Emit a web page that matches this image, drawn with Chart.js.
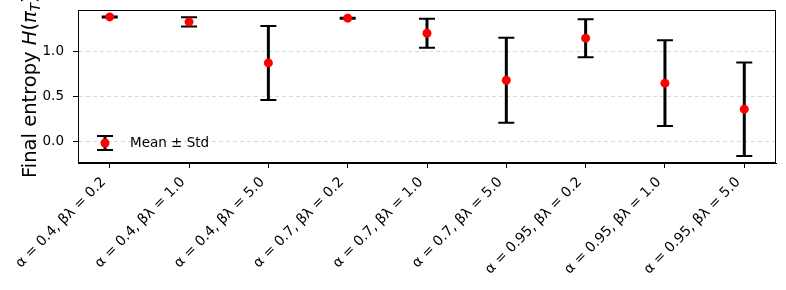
<!DOCTYPE html>
<html>
<head>
<meta charset="utf-8">
<script src="https://cdn.jsdelivr.net/npm/chart.js@4.4.1/dist/chart.umd.min.js"></script>
<style>
  html, body { margin: 0; padding: 0; background: #fff; }
  #wrap { width: 786px; height: 290px; position: relative; }
</style>
</head>
<body>
<div id="wrap"><canvas id="entropyChart"></canvas></div>
<script>
// data
const categories = [
    'α = 0.4, βλ = 0.2', 'α = 0.4, βλ = 1.0', 'α = 0.4, βλ = 5.0',
    'α = 0.7, βλ = 0.2', 'α = 0.7, βλ = 1.0', 'α = 0.7, βλ = 5.0',
    'α = 0.95, βλ = 0.2', 'α = 0.95, βλ = 1.0', 'α = 0.95, βλ = 5.0'
];
const means = [1.383, 1.328, 0.872, 1.369, 1.202, 0.680, 1.147, 0.647, 0.358];
const stds  = [0.006, 0.052, 0.411, 0.006, 0.161, 0.473, 0.211, 0.476, 0.520];
const yTicks = [0.0, 0.5, 1.0];

const FONT = "'DejaVu Sans', sans-serif";

// error bars go under the red markers
const errorBars = {
    id: 'errorBars',
    beforeDatasetsDraw(chart) {
        const { ctx, scales: { x, y } } = chart;
        ctx.save();
        ctx.strokeStyle = '#000';
        means.forEach((m, i) => {
            const px = x.getPixelForValue(i);
            const top = y.getPixelForValue(m + stds[i]);
            const bot = y.getPixelForValue(m - stds[i]);
            ctx.lineWidth = 3;
            ctx.beginPath();
            ctx.moveTo(px, top);
            ctx.lineTo(px, bot);
            ctx.stroke();
            ctx.lineWidth = 2;
            ctx.beginPath();
            ctx.moveTo(px - 8, top); ctx.lineTo(px + 8, top);
            ctx.moveTo(px - 8, bot); ctx.lineTo(px + 8, bot);
            ctx.stroke();
        });
        ctx.restore();
    },
    afterDraw(chart) {
        const { ctx, chartArea: a } = chart;
        ctx.save();
        // axes frame
        ctx.strokeStyle = '#000';
        ctx.lineWidth = 1;
        ctx.strokeRect(a.left + 0.5, a.top + 0.5, a.right - a.left - 1, a.bottom - a.top - 1);

        // legend (lower left, no frame)
        const lx = a.left + 27, ly = a.bottom - 20;
        ctx.lineWidth = 3;
        ctx.beginPath(); ctx.moveTo(lx, ly - 7); ctx.lineTo(lx, ly + 7); ctx.stroke();
        ctx.lineWidth = 2;
        ctx.beginPath();
        ctx.moveTo(lx - 8, ly - 7); ctx.lineTo(lx + 8, ly - 7);
        ctx.moveTo(lx - 8, ly + 7); ctx.lineTo(lx + 8, ly + 7);
        ctx.stroke();
        ctx.fillStyle = '#ff0000';
        ctx.beginPath(); ctx.arc(lx, ly, 4.5, 0, Math.PI * 2); ctx.fill();
        ctx.fillStyle = '#000';
        ctx.font = '13.5px ' + FONT;
        ctx.textBaseline = 'middle';
        ctx.fillText('Mean ± Std', lx + 25, ly);

        // y axis title, rotated, with italic math parts
        ctx.translate(36, 178);
        ctx.rotate(-Math.PI / 2);
        ctx.textBaseline = 'alphabetic';
        const parts = [
            ['Final entropy ', 'normal', 19.5, 0],
            ['H', 'italic', 19.5, 0],
            ['(', 'normal', 19.5, 0],
            ['π', 'italic', 19.5, 0],
            ['T', 'italic', 13.5, 4],
            [')', 'normal', 19.5, 0]
        ];
        let cx = 0;
        parts.forEach(([t, st, sz, dy]) => {
            ctx.font = st + ' ' + sz + 'px ' + FONT;
            ctx.fillText(t, cx, dy);
            cx += ctx.measureText(t).width;
        });
        ctx.restore();
    }
};

new Chart(document.getElementById('entropyChart'), {
    type: 'scatter',
    data: {
        datasets: [{
            label: 'Mean ± Std',
            data: means.map((m, i) => ({ x: i, y: m })),
            backgroundColor: '#ff0000',
            borderWidth: 0,
            pointRadius: 4.5,
            pointHoverRadius: 4.5
        }]
    },
    options: {
        responsive: true,
        maintainAspectRatio: false,
        animation: false,
        events: [],
        layout: { padding: { top: 10, right: 10, left: 0, bottom: 0 } },
        plugins: {
            legend: { display: false },
            tooltip: { enabled: false }
        },
        scales: {
            x: {
                type: 'linear',
                min: -0.4,
                max: 8.4,
                afterBuildTicks: s => { s.ticks = categories.map((c, i) => ({ value: i })); },
                afterFit: s => { s.height = 127; s.paddingRight = 0; },
                grid: { drawOnChartArea: false, tickLength: 5, tickColor: '#000' },
                border: { color: '#000' },
                ticks: {
                    autoSkip: false,
                    minRotation: 45,
                    maxRotation: 45,
                    padding: 6,
                    labelOffset: -6,
                    color: '#000',
                    font: { family: FONT, size: 14 },
                    callback: v => categories[v]
                }
            },
            y: {
                min: -0.24,
                max: 1.46,
                afterBuildTicks: s => { s.ticks = yTicks.map(v => ({ value: v })); },
                afterFit: s => { s.width = 78; s.paddingTop = 0; s.paddingBottom = 0; },
                grid: {
                    color: '#d9d9d9',
                    tickColor: '#000',
                    tickLength: 5,
                    lineWidth: 1
                },
                border: { color: '#000', dash: [4, 3] },
                ticks: {
                    padding: 9,
                    color: '#000',
                    font: { family: FONT, size: 13.5 },
                    callback: v => v.toFixed(1)
                }
            }
        }
    },
    plugins: [errorBars]
});
</script>
</body>
</html>
